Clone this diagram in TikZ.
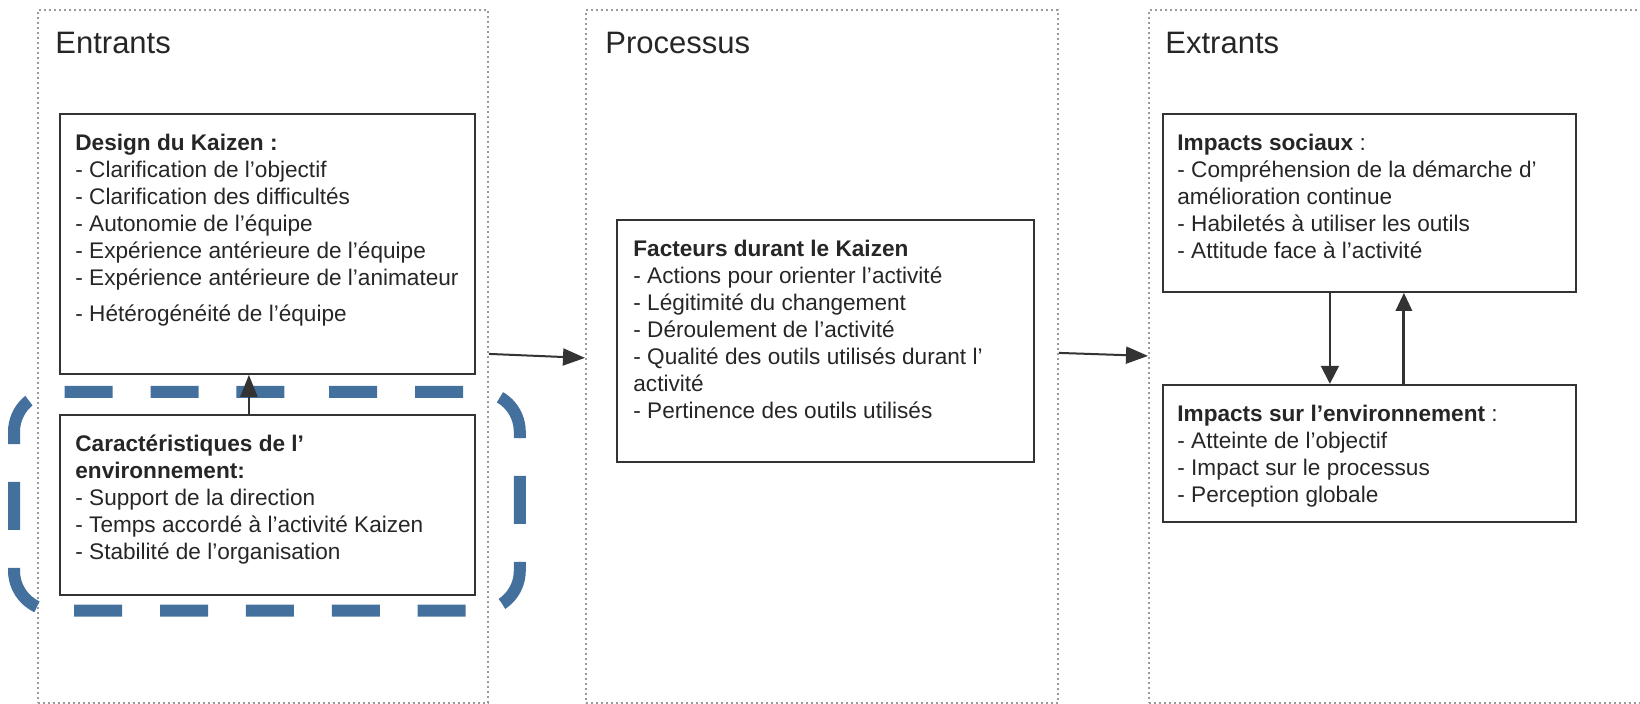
\documentclass[tikz,border=0pt]{standalone}
\usepackage{fontspec}
\setmainfont{Liberation Sans}
\usepackage{tikz}
\usetikzlibrary{arrows.meta, positioning}
\usepackage{xcolor}
\definecolor{kaizenblue}{HTML}{44709D}
\definecolor{kaizengray}{HTML}{9A9A9A}
\definecolor{kaizendark}{HTML}{333333}

\tikzset{
  colframe/.style={draw=kaizengray, line width=0.9pt, dash pattern=on 0.9pt off 1.6pt,
                   anchor=north west, inner sep=0pt, minimum height=346.5pt},
  heading/.style={anchor=north west, inner sep=0pt,
                  font=\fontsize{15.5}{18}\selectfont, text=black!85},
  kbox/.style={draw=kaizendark, line width=0.9pt, anchor=north west, inner sep=0pt},
  klist/.style={anchor=north west, inner sep=0pt, align=left,
                font=\fontsize{11.3}{13.5}\selectfont, text=black!85},
  flow/.style={-{Triangle[length=11pt, width=8.5pt]}, line width=1pt, kaizendark},
  focus/.style={draw=kaizenblue, line width=6pt, rounded corners=20pt,
                dash pattern=on 24pt off 18.92pt, dash phase=32pt},
}

\begin{document}
\begin{tikzpicture}[x=0.5pt, y=-0.5pt]
      \useasboundingbox (0,0) rectangle (1640,703);
      \node[colframe, minimum width=225pt] (entrants) at (37,9) {};
      \node[colframe, minimum width=236pt] (processus) at (585,9) {};
      \node[colframe, minimum width=270pt] (extrants) at (1148,9) {};
      \node[heading, below right=11.5pt and 9pt of entrants.north west] (tentrants) {Entrants};
      \node[heading, below right=11.5pt and 10pt of processus.north west] (tprocessus) {Processus};
      \node[heading, below right=11.5pt and 8.5pt of extrants.north west] (textrants) {Extrants};

      \node[kbox, minimum width=207.5pt, minimum height=130pt,
        below right=52pt and 11pt of entrants.north west] (design) {};
      \node[kbox, minimum width=207.5pt, minimum height=90pt,
        below=19.5pt of design] (carac) {};
      \coordinate (zonenw) at ([shift={(-22.5pt,11pt)}]carac.north west);
      \coordinate (zonese) at ([shift={(22pt,-7.5pt)}]carac.south east);
      \draw[focus] (carac.north |- zonenw) -| (zonese) -| (zonenw) -- cycle;
      \node[kbox, minimum width=208.5pt, minimum height=121pt,
        below right=105pt and 15.5pt of processus.north west] (facteurs) {};
      \node[kbox, minimum width=206.5pt, minimum height=89pt,
        below right=52pt and 7pt of extrants.north west] (sociaux) {};
      \node[kbox, minimum width=206.5pt, minimum height=68.5pt,
        below=45.5pt of sociaux] (environ) {};

      \node[klist, below right=10.5pt and 8pt of design.north west] (tdesign)
        {\textbf{Design du Kaizen :}\\
         - Clarification de l'objectif\\
         - Clarification des difficultés\\
         - Autonomie de l'équipe\\
         - Expérience antérieure de l'équipe\\
         - Expérience antérieure de l'animateur\\[4.5pt]
         - Hétérogénéité de l'équipe};
      \node[klist, below right=10.5pt and 8pt of carac.north west] (tcarac)
        {\textbf{Caractéristiques de l'}\\
         \textbf{environnement:}\\
         - Support de la direction\\
         - Temps accordé à l'activité Kaizen\\
         - Stabilité de l'organisation};
      \node[klist, below right=10.5pt and 8.5pt of facteurs.north west] (tfacteurs)
        {\textbf{Facteurs durant le Kaizen}\\
         - Actions pour orienter l'activité\\
         - Légitimité du changement\\
         - Déroulement de l'activité\\
         - Qualité des outils utilisés durant l'\\
         activité\\
         - Pertinence des outils utilisés};
      \node[klist, below right=10.5pt and 7.5pt of sociaux.north west] (tsociaux)
        {\textbf{Impacts sociaux} :\\
         - Compréhension de la démarche d'\\
         amélioration continue\\
         - Habiletés à utiliser les outils\\
         - Attitude face à l'activité};
      \node[klist, below right=10.5pt and 7.5pt of environ.north west] (tenviron)
        {\textbf{Impacts sur l'environnement} :\\
         - Atteinte de l'objectif\\
         - Impact sur le processus\\
         - Perception globale};

      \draw[flow] ([xshift=-9.25pt]carac.north) -- ([xshift=-9.25pt]design.south);
      \draw[flow] ([yshift=1.25pt]entrants.east) -- ([yshift=-0.75pt]processus.west);
      \draw[flow] ([yshift=1.75pt]processus.east) -- ([yshift=0.25pt]extrants.west);
      \draw[flow, -{Triangle[length=9pt, width=9pt]}]
        ([xshift=-19.75pt]sociaux.south) -- ([xshift=-19.75pt]environ.north);
      \draw[flow, line width=1.5pt, -{Triangle[length=9pt, width=8pt]}]
        ([xshift=17.25pt]environ.north) -- ([xshift=17.25pt]sociaux.south);
\end{tikzpicture}
\end{document}
